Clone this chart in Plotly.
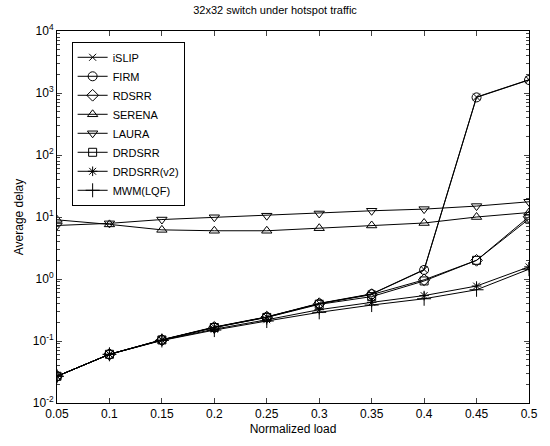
import plotly.graph_objects as go

load = [0.05, 0.1, 0.15, 0.2, 0.25, 0.3, 0.35, 0.4, 0.45, 0.5]

islip = [0.027, 0.061, 0.105, 0.168, 0.245, 0.405, 0.575, 1.42, 860, 1640]
firm = [0.027, 0.061, 0.104, 0.166, 0.243, 0.40, 0.57, 1.40, 850, 1620]
rdsrr = [0.027, 0.061, 0.104, 0.166, 0.243, 0.40, 0.56, 0.97, 2.0, 10.1]
serena = [9.0, 7.6, 6.2, 6.0, 6.0, 6.6, 7.3, 8.0, 10.0, 11.8]
laura = [7.3, 7.9, 9.1, 9.9, 10.5, 11.4, 12.6, 13.4, 15.0, 17.6]
drdsrr = [0.027, 0.061, 0.104, 0.165, 0.24, 0.39, 0.52, 0.93, 2.0, 9.3]
drdsrr_v2 = [0.027, 0.061, 0.103, 0.155, 0.22, 0.32, 0.42, 0.54, 0.77, 1.57]
mwm = [0.027, 0.061, 0.102, 0.15, 0.21, 0.29, 0.38, 0.48, 0.67, 1.44]

series = [
    ("iSLIP", islip, "x-thin-open", 7),
    ("FIRM", firm, "circle-open", 9),
    ("RDSRR", rdsrr, "diamond-open", 9),
    ("SERENA", serena, "triangle-up-open", 9),
    ("LAURA", laura, "triangle-down-open", 9),
    ("DRDSRR", drdsrr, "square-open", 8),
    ("DRDSRR(v2)", drdsrr_v2, "asterisk-open", 8),
    ("MWM(LQF)", mwm, "cross-thin-open", 10),
]

x_ticks = [0.05, 0.1, 0.15, 0.2, 0.25, 0.3, 0.35, 0.4, 0.45, 0.5]
x_ticktext = ["0.05", "0.1", "0.15", "0.2", "0.25", "0.3", "0.35", "0.4", "0.45", "0.5"]
y_ticks = [0.01, 0.1, 1, 10, 100, 1000, 10000]
y_ticktext = ["10<sup>-2</sup>", "10<sup>-1</sup>", "10<sup>0</sup>", "10<sup>1</sup>",
              "10<sup>2</sup>", "10<sup>3</sup>", "10<sup>4</sup>"]
y_minor = [m * 10 ** e for e in range(-2, 4) for m in range(2, 10)]

fig = go.Figure()
for name, vals, sym, sz in series:
    fig.add_trace(go.Scatter(
        x=load, y=vals, name=name, mode="lines+markers",
        line=dict(color="black", width=1),
        marker=dict(symbol=sym, size=sz, color="black",
                    line=dict(color="black", width=1)),
    ))

font = "Liberation Sans, Arial, sans-serif"
fig.update_layout(
    width=550, height=446,
    margin=dict(l=57, r=13, t=31, b=38),
    paper_bgcolor="white", plot_bgcolor="white",
    font=dict(family=font, size=12, color="black"),
    title=dict(text="32x32 switch under hotspot traffic", x=0.5, xanchor="center",
               y=0.978, yanchor="middle", font=dict(size=11)),
    showlegend=True,
    legend=dict(x=0.031, y=0.971, xanchor="left", yanchor="top",
                bgcolor="white", bordercolor="black", borderwidth=1,
                font=dict(size=11), tracegroupgap=0, itemwidth=30),
    xaxis=dict(range=[0.05, 0.5], tickvals=x_ticks, ticktext=x_ticktext,
               ticks="inside", ticklen=5, mirror="ticks", showline=True,
               linecolor="black", linewidth=1, showgrid=False, zeroline=False,
               title=dict(text="Normalized load", standoff=4, font=dict(size=12))),
    yaxis=dict(type="log", range=[-2, 4], tickvals=y_ticks, ticktext=y_ticktext,
               ticks="inside", ticklen=5, mirror="ticks", showline=True,
               linecolor="black", linewidth=1, showgrid=False, zeroline=False,
               minor=dict(tickvals=y_minor, ticks="inside", ticklen=3,
                          showgrid=False),
               title=dict(text="Average delay", standoff=6, font=dict(size=12))),
)

fig.write_html("out.html")
